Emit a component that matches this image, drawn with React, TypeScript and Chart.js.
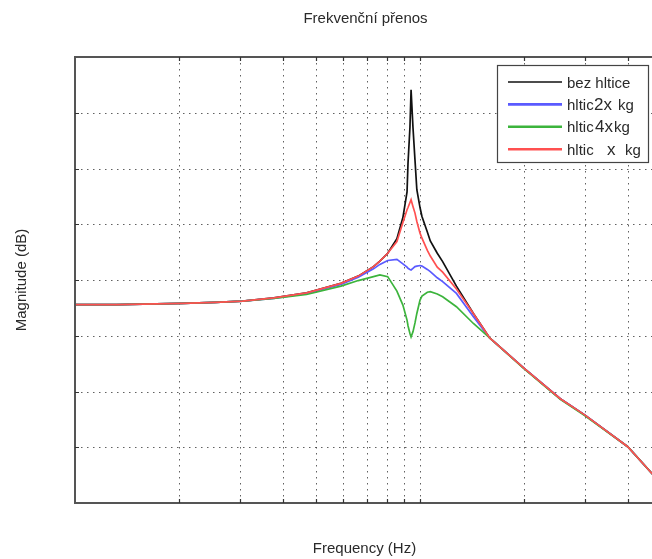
import React, { useEffect, useRef } from "react";
import { Chart, registerables } from "chart.js";

Chart.register(...registerables);

const TITLE = "Frekvenční přenos";
const X_LABEL = "Frequency (Hz)";
const Y_LABEL = "Magnitude (dB)";

// Frequencies (Hz)
const freqHz = [
  1, 1.32, 2.05, 2.55, 3.06, 3.77, 4.69, 5.9, 6.62, 7.33, 7.65, 8.06, 8.57, 8.92, 9.17, 9.23, 9.35, 9.42,
  9.54, 9.67, 9.79, 10.0, 10.13, 10.5, 10.71, 11.22, 11.63, 12.75, 14.28, 15.92, 20, 25.5, 30, 40, 48.3,
];

// Magnitudes (dB) per series
const bezHltice = [
  -24.4, -24.4, -24.2, -24.0, -23.8, -23.2, -22.3, -20.6, -19.3, -17.6, -16.6, -15.2, -12.6, -8.8, -4.2, 1.0, 7.4, 14.1,
  7.4, 1.5, -3.8, -7.0, -8.6, -11.4, -13.0, -15.2, -16.7, -21.1, -26.0, -30.4, -35.8, -41.3, -44.2, -49.9, -55.5,
];
const hltic2x = [
  -24.4, -24.4, -24.2, -24.0, -23.8, -23.3, -22.4, -20.8, -19.5, -18.0, -17.2, -16.5, -16.3, -17.1, -17.7, -17.9, -18.1, -18.2,
  -17.9, -17.6, -17.5, -17.4, -17.5, -18.1, -18.5, -19.6, -20.3, -22.4, -26.6, -30.4, -35.8, -41.3, -44.2, -49.9, -55.5,
];
const hltic4x = [
  -24.4, -24.4, -24.2, -24.0, -23.8, -23.3, -22.6, -21.1, -20.1, -19.4, -19.1, -19.4, -22.0, -24.5, -27.2, -28.2, -29.6, -30.2,
  -29.3, -27.7, -26.0, -23.6, -22.9, -22.2, -22.1, -22.5, -23.0, -24.8, -27.8, -30.4, -35.9, -41.4, -44.3, -49.9, -55.5,
];
const hlticX = [
  -24.4, -24.4, -24.2, -24.0, -23.8, -23.2, -22.3, -20.6, -19.3, -17.6, -16.6, -15.2, -13.1, -9.7, -7.4, -7.0, -6.1, -5.6,
  -6.8, -8.0, -9.5, -11.6, -12.5, -14.7, -15.7, -17.7, -18.6, -21.6, -26.0, -30.4, -35.8, -41.3, -44.2, -49.9, -55.5,
];

const xGridValues = [2, 3, 4, 5, 6, 7, 8, 9, 10, 20, 30, 40];
const yGridValues = [-50, -40, -30, -20, -10, 0, 10];
const X_MIN = 1;
const X_MAX = 48.3;
const Y_MIN = -60;
const Y_MAX = 20;

const COLORS = {
  black: "#111111",
  blue: "#5a5aff",
  green: "#3cb43c",
  red: "#ff5050",
};

type Part = { t: string; dx: number; big?: boolean };
const legendEntries: { color: string; width: number; parts: Part[] }[] = [
  { color: COLORS.black, width: 1.6, parts: [{ t: "bez hltice", dx: 0 }] },
  { color: COLORS.blue, width: 2.6, parts: [{ t: "hltic", dx: 0 }, { t: "2x", dx: 27, big: true }, { t: "kg", dx: 51 }] },
  { color: COLORS.green, width: 2.6, parts: [{ t: "hltic", dx: 0 }, { t: "4x", dx: 28, big: true }, { t: "kg", dx: 47 }] },
  { color: COLORS.red, width: 2.6, parts: [{ t: "hltic", dx: 0 }, { t: "x", dx: 40, big: true }, { t: "kg", dx: 58 }] },
];

const FONT = '15px "Liberation Sans", Arial, sans-serif';
const BIG_FONT = '17px "Liberation Sans", Arial, sans-serif';
const TEXT_COLOR = "#2a2a2a";

const toPoints = (ys: number[]) => freqHz.map((f, i) => ({ x: f, y: ys[i] }));

const framePlugin = {
  id: "matlabFrame",
  beforeDatasetsDraw(chart: any) {
    const { ctx, chartArea: a, scales } = chart;
    const xs = scales.x;
    const ys = scales.y;
    ctx.save();
    ctx.strokeStyle = "rgba(30,30,30,0.7)";
    ctx.lineWidth = 1;
    ctx.setLineDash([1.5, 4.5]);
    for (const v of xGridValues) {
      const px = Math.round(xs.getPixelForValue(v)) + 0.5;
      ctx.beginPath();
      ctx.moveTo(px, a.top);
      ctx.lineTo(px, a.bottom);
      ctx.stroke();
    }
    for (const v of yGridValues) {
      const py = Math.round(ys.getPixelForValue(v)) + 0.5;
      ctx.beginPath();
      ctx.moveTo(a.left, py);
      ctx.lineTo(a.right, py);
      ctx.stroke();
    }
    ctx.restore();
  },
  afterDatasetsDraw(chart: any) {
    const { ctx, chartArea: a, scales } = chart;
    const xs = scales.x;
    const ys = scales.y;
    ctx.save();
    ctx.setLineDash([]);
    // frame
    ctx.strokeStyle = "#555555";
    ctx.lineWidth = 2;
    ctx.beginPath();
    ctx.moveTo(a.right, a.top);
    ctx.lineTo(a.left, a.top);
    ctx.lineTo(a.left, a.bottom);
    ctx.lineTo(a.right, a.bottom);
    ctx.lineTo(a.right, a.top);
    ctx.stroke();
    // inward ticks
    ctx.lineWidth = 1.2;
    ctx.strokeStyle = "#333333";
    for (const v of xGridValues) {
      const px = Math.round(xs.getPixelForValue(v)) + 0.5;
      ctx.beginPath();
      ctx.moveTo(px, a.bottom);
      ctx.lineTo(px, a.bottom - 4);
      ctx.moveTo(px, a.top);
      ctx.lineTo(px, a.top + 4);
      ctx.stroke();
    }
    for (const v of yGridValues) {
      const py = Math.round(ys.getPixelForValue(v)) + 0.5;
      ctx.beginPath();
      ctx.moveTo(a.left, py);
      ctx.lineTo(a.left + 4, py);
      ctx.moveTo(a.right, py);
      ctx.lineTo(a.right - 4, py);
      ctx.stroke();
    }
    // legend box
    const bw = 151;
    const bh = 97;
    const bx = a.right - 8 - bw;
    const by = a.top + 8;
    ctx.fillStyle = "#ffffff";
    ctx.fillRect(bx, by, bw, bh);
    ctx.strokeStyle = "#444444";
    ctx.lineWidth = 1.2;
    ctx.strokeRect(bx + 0.5, by + 0.5, bw, bh);
    legendEntries.forEach((e, i) => {
      const ry = by + 17 + i * 22.4;
      ctx.strokeStyle = e.color;
      ctx.lineWidth = e.width;
      ctx.beginPath();
      ctx.moveTo(bx + 11, ry);
      ctx.lineTo(bx + 65, ry);
      ctx.stroke();
      ctx.fillStyle = TEXT_COLOR;
      ctx.textBaseline = "alphabetic";
      ctx.textAlign = "left";
      for (const p of e.parts) {
        ctx.font = p.big ? BIG_FONT : FONT;
        ctx.fillText(p.t, bx + 70 + p.dx, ry + 5.5);
      }
    });
    ctx.restore();
  },
  afterDraw(chart: any) {
    const { ctx, chartArea: a } = chart;
    const cx = (a.left + a.right) / 2;
    const cy = (a.top + a.bottom) / 2;
    ctx.save();
    ctx.fillStyle = TEXT_COLOR;
    ctx.font = FONT;
    ctx.textAlign = "center";
    ctx.textBaseline = "alphabetic";
    ctx.fillText(TITLE, cx, 23);
    ctx.fillText(X_LABEL, cx - 1, 553);
    ctx.translate(25.5, cy);
    ctx.rotate(-Math.PI / 2);
    ctx.fillText(Y_LABEL, 0, 0);
    ctx.restore();
  },
};

export default function App() {
  const ref = useRef<HTMLCanvasElement | null>(null);
  useEffect(() => {
    if (!ref.current) return;
    const mk = (label: string, data: number[], color: string, order: number, width = 1.7) => ({
      label,
      data: toPoints(data),
      borderColor: color,
      backgroundColor: color,
      borderWidth: width,
      showLine: true,
      pointRadius: 0,
      tension: 0,
      order,
    });
    const chart = new Chart(ref.current, {
      type: "scatter",
      data: {
        datasets: [
          mk("bez hltice", bezHltice, COLORS.black, 4, 1.7),
          mk("hltic 2x kg", hltic2x, COLORS.blue, 3),
          mk("hltic 4x kg", hltic4x, COLORS.green, 2),
          mk("hltic x kg", hlticX, COLORS.red, 1),
        ],
      },
      options: {
        responsive: false,
        animation: false,
        devicePixelRatio: 1,
        layout: { padding: { left: 75, top: 57, right: 8, bottom: 56 } },
        plugins: {
          legend: { display: false },
          tooltip: { enabled: false },
          title: { display: false },
        },
        scales: {
          x: { type: "logarithmic", min: X_MIN, max: X_MAX, display: false },
          y: { type: "linear", min: Y_MIN, max: Y_MAX, display: false },
        },
      },
      plugins: [framePlugin],
    } as any);
    return () => chart.destroy();
  }, []);
  return (
    <div
      style={{
        position: "fixed",
        left: 0,
        top: 0,
        width: 652,
        height: 559,
        overflow: "hidden",
        background: "#ffffff",
      }}
    >
      <canvas ref={ref} width={664} height={559} style={{ display: "block", width: 664, height: 559 }} />
    </div>
  );
}
